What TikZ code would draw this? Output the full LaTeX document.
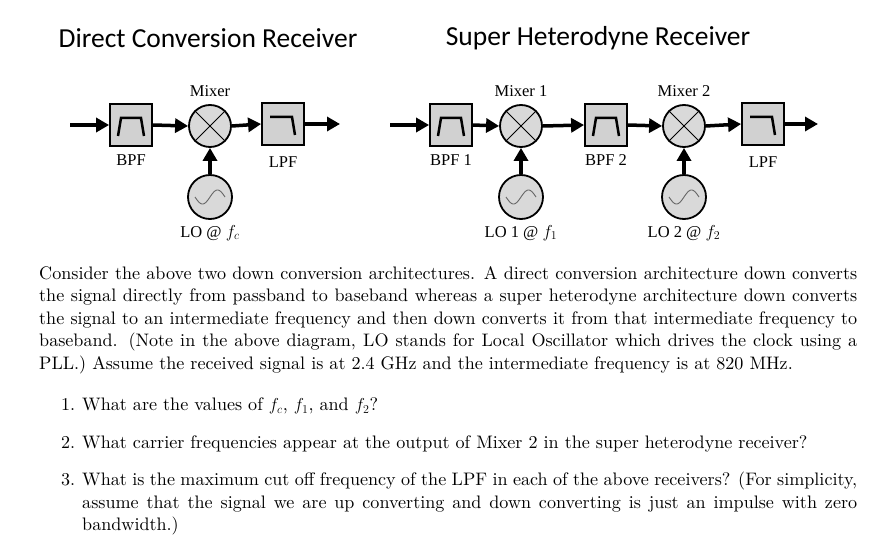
\documentclass[tikz,border=0pt]{standalone}
\usepackage{fontspec}
\usepackage{enumitem}
\newfontfamily\carl{Carlito}
\newfontfamily\tms{Liberation Serif}
\newfontfamily\lmten{lmroman10-regular.otf}
\usetikzlibrary{arrows.meta}
\begin{document}
\begin{tikzpicture}[x=1pt,y=-1pt,
  blk/.style={draw,line width=1.8pt,fill=black!18,minimum width=42pt,minimum height=42pt,inner sep=0},
  mix/.style={draw,line width=1.8pt,fill=black!15,circle,minimum size=42pt,inner sep=0},
  osc/.style={draw,line width=1.8pt,fill=black!15,circle,minimum size=44pt,inner sep=0},
  sig/.style={line width=3.5pt,-{Triangle[length=13pt,width=14pt]}},
  lab/.style={font=\tms\fontsize{16.5}{19}\selectfont},
  ttl/.style={font=\carl\fontsize{27.5}{30}\selectfont}]
\useasboundingbox (0,0) rectangle (894,556);
\newcommand\bpficon[1]{\draw[line width=2.5pt] ([shift={(-13,11)}]#1.center) -- ++(3,-18) -- ++(20,0) -- ++(3,18);}
\newcommand\lpficon[1]{\draw[line width=2.5pt] ([shift={(-13,-7)}]#1.center) -- ++(22,0) -- ++(3,18);}
\newcommand\xicon[1]{\draw[line width=0.9pt] (#1.north east) -- (#1.south west) (#1.north west) -- (#1.south east);}
\newcommand\sineicon[1]{\draw[line width=0.9pt,black!60,shift={(#1.center)}] plot[domain=-15:15,samples=40,smooth] (\x,{-7*sin(12*\x)});}
\node[ttl] (t1) at (208,38) {Direct Conversion Receiver};
\node[ttl] (t2) at (598,38) {Super Heterodyne Receiver};
% left
\coordinate (in1) at (70,125);
\node[blk] (bpf) at (131,125) {}; \bpficon{bpf}
\node[mix] (m) at (210,126) {}; \xicon{m}
\node[blk] (lpf) at (283,124) {}; \lpficon{lpf}
\coordinate (out1) at (340,124);
\node[osc] (lo) at (210,197) {}; \sineicon{lo}
\draw[sig] (in1) -- (bpf.west);
\draw[sig] (bpf.east) -- (m.west);
\draw[sig] (m.east) -- (lpf.west);
\draw[sig] (lpf.east) -- (out1);
\draw[sig] (lo.north) -- (m.south);
\node[lab] (lm) at (210,91) {Mixer};
\node[lab] (lb) at (131,160) {BPF};
\node[lab] (ll) at (283,162) {LPF};
\node[lab] (llo) at (210,233) {LO @ $f_c$};
% right
\coordinate (in2) at (390,125);
\node[blk] (b1) at (451,125) {}; \bpficon{b1}
\node[mix] (m1) at (521,126) {}; \xicon{m1}
\node[blk] (b2) at (606,125) {}; \bpficon{b2}
\node[mix] (m2) at (684,126) {}; \xicon{m2}
\node[blk] (l2) at (763,124) {}; \lpficon{l2}
\coordinate (out2) at (818,124);
\node[osc] (o1) at (521,197) {}; \sineicon{o1}
\node[osc] (o2) at (684,197) {}; \sineicon{o2}
\draw[sig] (in2) -- (b1.west);
\draw[sig] (b1.east) -- (m1.west);
\draw[sig] (m1.east) -- (b2.west);
\draw[sig] (b2.east) -- (m2.west);
\draw[sig] (m2.east) -- (l2.west);
\draw[sig] (l2.east) -- (out2);
\draw[sig] (o1.north) -- (m1.south);
\draw[sig] (o2.north) -- (m2.south);
\node[lab] at (521,91) {Mixer 1};
\node[lab] at (684,91) {Mixer 2};
\node[lab] at (451,160) {BPF 1};
\node[lab] at (606,160) {BPF 2};
\node[lab] at (763,162) {LPF};
\node[lab] at (521,233) {LO 1 @ $f_1$};
\node[lab] at (684,233) {LO 2 @ $f_2$};
% text
\node[anchor=north west,inner sep=0,text width=818pt,align=justify,font=\lmten\fontsize{18.1}{22.5}\selectfont] (txt) at (39,266) {%
Consider the above two down conversion architectures. A direct conversion architecture down converts\linebreak the signal directly from passband to baseband whereas a super heterodyne architecture down converts\linebreak the signal to an intermediate frequency and then down converts it from that intermediate frequency to\linebreak baseband. (Note in the above diagram, LO stands for Local Oscillator which drives the clock using a\linebreak PLL.) Assume the received signal is at 2.4~GHz and the intermediate frequency is at 820~MHz.\par
\begin{enumerate}[leftmargin=43pt,labelsep=7pt,topsep=19pt,partopsep=0pt,itemsep=15pt,parsep=0pt]
\item What are the values of $f_c$, $f_1$, and $f_2$?
\item What carrier frequencies appear at the output of Mixer 2 in the super heterodyne receiver?
\item What is the maximum cut off frequency of the LPF in each of the above receivers? (For simplicity,\linebreak assume that the signal we are up converting and down converting is just an impulse with zero\linebreak bandwidth.)
\end{enumerate}};
\end{tikzpicture}
\end{document}
